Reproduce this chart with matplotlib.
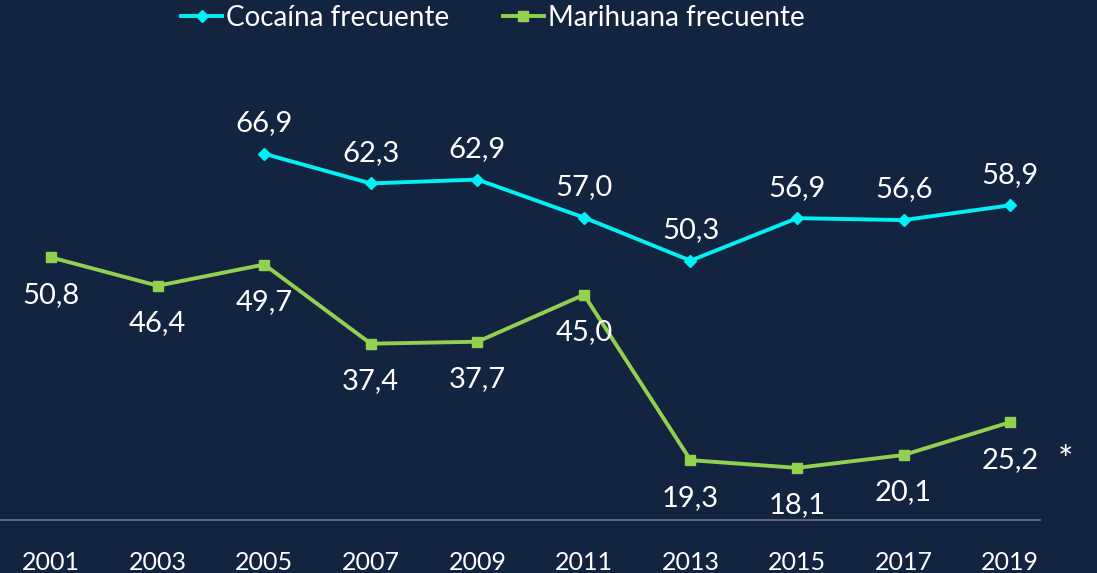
import numpy as np
import matplotlib.pyplot as plt

years = [2001, 2003, 2005, 2007, 2009, 2011, 2013, 2015, 2017, 2019]
cocaina = [np.nan, np.nan, 66.9, 62.3, 62.9, 57.0, 50.3, 56.9, 56.6, 58.9]
marihuana = [50.8, 46.4, 49.7, 37.4, 37.7, 45.0, 19.3, 18.1, 20.1, 25.2]

bg = '#12243f'
cyan = '#00f0f5'
green = '#92d050'

plt.rcParams['font.family'] = ['Lato', 'DejaVu Sans']

fig = plt.figure(figsize=(10.97, 5.73), dpi=100)
fig.patch.set_facecolor(bg)
ax = fig.add_axes([0, 53/573, 1040/1097, 520/573])
ax.set_facecolor(bg)

ax.plot(years, cocaina, color=cyan, lw=2.8, marker='D', ms=6.5, label='Cocaína frecuente')
ax.plot(years, marihuana, color=green, lw=2.8, marker='s', ms=7, label='Marihuana frecuente')

for x, v in zip(years, cocaina):
    if not np.isnan(v):
        ax.annotate(f'{v:.1f}'.replace('.', ','), (x, v), xytext=(0, 22), textcoords='offset points',
                    ha='center', va='center', color='white', fontsize=21)
for x, v in zip(years, marihuana):
    ax.annotate(f'{v:.1f}'.replace('.', ','), (x, v), xytext=(0, -27), textcoords='offset points',
                ha='center', va='center', color='white', fontsize=21)

# asterisco junto al ultimo dato
fig.text(1065/1097, 1 - 462/573, '*', color='white', fontsize=26, ha='center', va='center')

ax.set_xlim(2000.04, 2019.56)
ax.set_ylim(10, 90.8)
ax.set_xticks(years)
ax.set_xticklabels([str(y) for y in years])
ax.set_yticks([])
ax.tick_params(axis='x', length=0, colors='white', labelsize=18, pad=22)
for s in ['top', 'right', 'left']:
    ax.spines[s].set_visible(False)
ax.spines['bottom'].set_color('#6b7480')
ax.spines['bottom'].set_linewidth(1.2)

leg = ax.legend(loc='center', bbox_to_anchor=(493/1040, 1 - 18/520), ncol=2, frameon=False,
                fontsize=20, labelcolor='white', handlelength=1.45, handletextpad=0.15,
                columnspacing=1.95, borderpad=0)

fig.savefig('out.png', dpi=100, facecolor=bg)
